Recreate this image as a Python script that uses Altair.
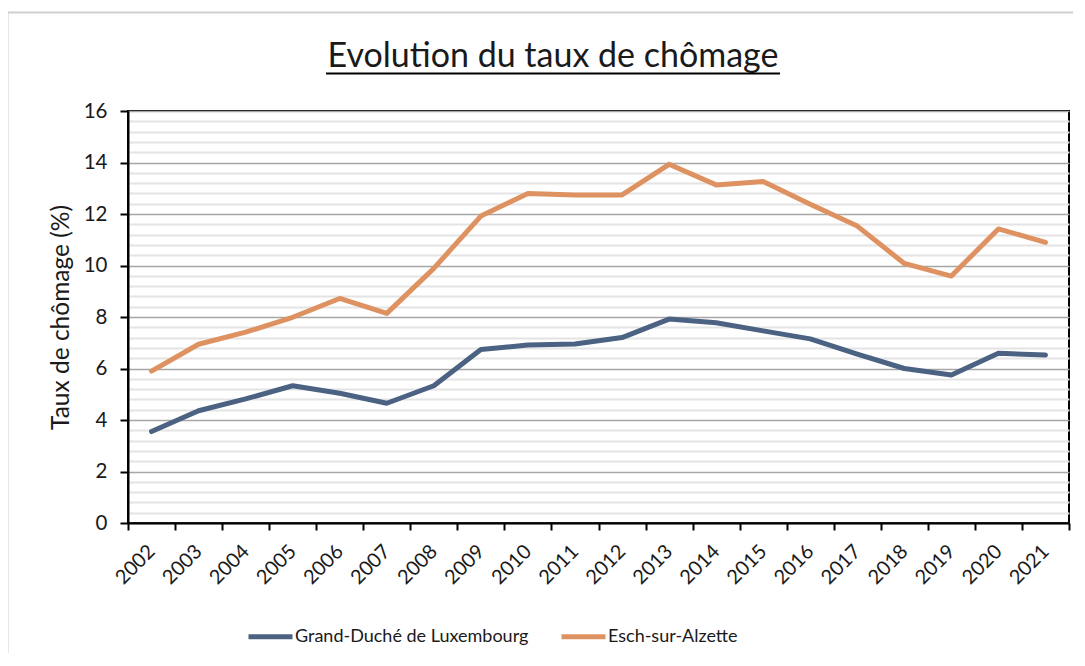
import altair as alt
import pandas as pd

years = [str(y) for y in range(2002, 2022)]
luxembourg = [3.55, 4.36, 4.82, 5.33, 5.04, 4.65, 5.33, 6.74, 6.91, 6.95,
              7.20, 7.92, 7.78, 7.46, 7.15, 6.56, 6.00, 5.75, 6.59, 6.52]
esch = [5.90, 6.94, 7.41, 7.99, 8.72, 8.14, 9.89, 11.92, 12.80, 12.74,
        12.74, 13.93, 13.13, 13.26, 12.38, 11.53, 10.08, 9.59, 11.42, 10.90]
series_names = ["Grand-Duché de Luxembourg", "Esch-sur-Alzette"]
series_colors = ["#4B6282", "#DF9261"]
title_text = ["Evolution du taux de chômage"]
major_ticks = list(range(0, 17, 2))
minor_ticks = [round(i * 0.4, 1) for i in range(41) if i % 5 != 0]

df = pd.DataFrame({
    "Année": years * 2,
    "Taux": luxembourg + esch,
    "Série": [series_names[0]] * len(years) + [series_names[1]] * len(years),
})
title_df = pd.DataFrame({"t": title_text})

FONT = "Lato"
TXT = "#1a1a1a"

x_scale = alt.Scale(type="band", paddingInner=0, paddingOuter=0)
x_enc = alt.X(
    "Année:O",
    sort=years,
    bandPosition=0.5,
    scale=x_scale,
    axis=alt.Axis(
        title=None, labelAngle=-45, labelAlign="right", labelBaseline="middle",
        labelFont=FONT, labelFontSize=20, labelColor=TXT, labelPadding=18,
        tickBand="extent", tickSize=7, tickWidth=2, tickColor="black",
        domainColor="black", domainWidth=2, grid=False,
    ),
)

lines = alt.Chart(df).mark_line(strokeWidth=5, strokeCap="round", strokeJoin="round").encode(
    x=x_enc,
    y=alt.Y(
        "Taux:Q",
        scale=alt.Scale(domain=[0, 16], nice=False, zero=True),
        axis=alt.Axis(
            title="Taux de chômage (%)", titleFont=FONT, titleFontSize=24.5,
            titleFontWeight="normal", titleColor=TXT, titlePadding=10,
            values=major_ticks, labelFont=FONT, labelFontSize=20.5, labelColor=TXT,
            labelPadding=13, tickSize=8, tickWidth=2, tickColor="black",
            domainColor="black", domainWidth=2,
            grid=True, gridColor="#A6A6A6", gridWidth=1.6,
        ),
    ),
    color=alt.Color(
        "Série:N",
        sort=series_names,
        scale=alt.Scale(domain=series_names, range=series_colors),
        legend=alt.Legend(
            title=None, orient="none", direction="horizontal",
            legendX=118, legendY=501,
            symbolType="stroke", symbolSize=1936, symbolStrokeWidth=5,
            labelFont=FONT, labelFontSize=18, labelColor=TXT, labelOffset=0,
            labelLimit=0, columnPadding=22,
        ),
    ),
)

minor = alt.Chart(df).mark_line(opacity=0).encode(
    x=x_enc,
    y=alt.Y(
        "Taux:Q",
        axis=alt.Axis(
            orient="right", title=None, values=minor_ticks, labels=False, ticks=False,
            domain=False, grid=True, gridColor="#E4E4E4", gridWidth=2,
        ),
    ),
)

title = alt.Chart(title_df).mark_text(
    font=FONT, fontSize=34, color=TXT, align="center", baseline="alphabetic"
).encode(text="t:N", x=alt.value(425), y=alt.value(-44))

underline = alt.Chart(title_df).mark_rule(color="black", strokeWidth=1.8).encode(
    x=alt.value(198), x2=alt.value(652), y=alt.value(-37.5)
)
border_left = alt.Chart(title_df).mark_rule(color="#D0D0D0", strokeWidth=2).encode(
    x=alt.value(-120.5), y=alt.value(-98.5), y2=alt.value(560)
)
border_top = alt.Chart(title_df).mark_rule(color="#D0D0D0", strokeWidth=2).encode(
    x=alt.value(-120.5), x2=alt.value(960), y=alt.value(-98.5)
)

chart = alt.layer(minor, lines, title, underline, border_left, border_top).resolve_scale(
    y="shared"
).resolve_axis(y="independent").properties(
    width=941,
    height=412,
    background="white",
    autosize=alt.AutoSizeParams(type="none"),
    padding={"left": 120, "top": 103, "right": 4, "bottom": 130},
).configure_view(
    stroke="black", strokeWidth=2
).configure_axis(
    labelFont=FONT, titleFont=FONT
).configure_legend(
    labelFont=FONT
)

chart.save("out.html", embed_options={"renderer": "svg", "actions": False})
